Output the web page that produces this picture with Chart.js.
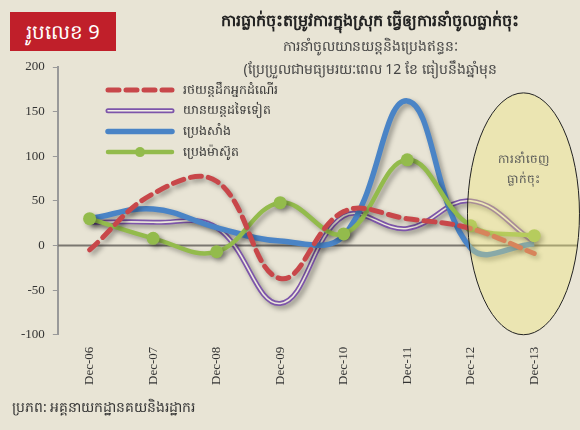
<!DOCTYPE html>
<html>
<head>
<meta charset="utf-8">
<script src="https://cdn.jsdelivr.net/npm/chart.js@4"></script>
<style>
  html, body { margin: 0; padding: 0; }
  body { width: 580px; height: 430px; background: #e8e4d5; position: relative; overflow: hidden; font-family: "Noto Sans", "DejaVu Sans", sans-serif; }
  #wrap { position: absolute; left: 0; top: 0; width: 580px; height: 430px; }
  .badge { position: absolute; left: 10px; top: 12px; width: 106px; height: 39px; background: #c01f2a; color: #fff; font-size: 20px; line-height: 39px; text-align: center; }
  .t1 { position: absolute; left: 150px; width: 440px; top: 9px; text-align: center; font-size: 16px; font-weight: bold; color: #222; }
  .t2 { position: absolute; left: 150px; width: 440px; top: 36px; text-align: center; font-size: 14px; color: #444; }
  .t3 { position: absolute; left: 150px; width: 440px; top: 59px; text-align: center; font-size: 14px; color: #444; }
  .src { position: absolute; left: 12px; top: 397px; font-size: 14px; color: #333; }
</style>
</head>
<body>
<div id="wrap"><canvas id="grafica" width="580" height="430"></canvas></div>
<div class="badge">រូបលេខ 9</div>
<div class="t1">ការធ្លាក់ចុះតម្រូវការក្នុងស្រុក ធ្វើឲ្យការនាំចូលធ្លាក់ចុះ</div>
<div class="t2">ការនាំចូលយានយន្តនិងប្រេងឥន្ធនៈ</div>
<div class="t3">(ប្រែប្រួលជាមធ្យមរយៈពេល 12 ខែ ធៀបនឹងឆ្នាំមុន</div>
<div class="src">ប្រភព: អគ្គនាយកដ្ឋានគយនិងរដ្ឋាករ</div>
<script>
// datos
const categorias = ['Dec-06', 'Dec-07', 'Dec-08', 'Dec-09', 'Dec-10', 'Dec-11', 'Dec-12', 'Dec-13'];
const rotulos = ['រថយន្តដឹកអ្នកដំណើរ', 'យានយន្តដទៃទៀត', 'ប្រេងសាំង', 'ប្រេងម៉ាស៊ូត'];
const rotuloEclipse = ['ការនាំចេញ', 'ធ្លាក់ចុះ'];
const pasajeros = [-5, 58, 72, -37, 38, 30, 19, -9];
const otros = [26, 26, 20, -65, 33, 19, 50, 4];
const gasolina = [30, 41, 20, 5, 11, 162, -3, 2];
const diesel = [30, 8, -7, 48, 13, 96, 22, 11];
const marcasY = [200, 150, 100, 50, 0, -50, -100];

const rojo = '#c8474a', morado = '#7d55aa', azul = '#4a84c6', verde = '#93bb4c';

// linea del cero, llega hasta el borde
const lineaCero = {
  id: 'lineaCero',
  beforeDatasetsDraw(chart) {
    const c = chart.ctx, y0 = chart.scales.y.getPixelForValue(0);
    c.save();
    c.strokeStyle = '#7a7770';
    c.lineWidth = 2;
    c.beginPath(); c.moveTo(chart.chartArea.left, y0); c.lineTo(578, y0); c.stroke();
    c.restore();
  }
};

// sombra de las lineas
const sombra = {
  id: 'sombra',
  beforeDatasetDraw(chart, args) {
    const c = chart.ctx;
    c.save();
    c.shadowColor = 'rgba(0,0,0,0.35)';
    c.shadowBlur = 5;
    c.shadowOffsetX = 3;
    c.shadowOffsetY = 3;
    if (chart.data.datasets[args.index].sinSombra) c.shadowColor = 'transparent';
  },
  afterDatasetDraw(chart) { chart.ctx.restore(); }
};

// elipse sobre Dec-12 / Dec-13
const elipse = {
  id: 'elipse',
  afterDatasetsDraw(chart) {
    const c = chart.ctx, x = chart.scales.x, y = chart.scales.y;
    const cx = (x.getPixelForValue(6) + x.getPixelForValue(7)) / 2 + 21;
    const top = y.getPixelForValue(171), bot = y.getPixelForValue(-100);
    c.save();
    c.beginPath();
    c.ellipse(cx, (top + bot) / 2, 56, (bot - top) / 2, 0, 0, Math.PI * 2);
    c.fillStyle = 'rgba(240,232,122,0.38)';
    c.fill();
    c.lineWidth = 1;
    c.strokeStyle = '#222';
    c.stroke();
    c.fillStyle = '#555';
    c.font = '12px "Noto Sans", sans-serif';
    c.textAlign = 'center';
    c.textBaseline = 'middle';
    c.fillText(rotuloEclipse[0], cx, y.getPixelForValue(96));
    c.fillText(rotuloEclipse[1], cx, y.getPixelForValue(74));
    c.restore();
  }
};

// leyenda a mano
const leyenda = {
  id: 'leyenda',
  afterDraw(chart) {
    const c = chart.ctx;
    const muestras = chart.data.datasets.filter(d => d.label);
    muestras.forEach((d, i) => {
      const yy = 90 + i * 20.7;
      c.save();
      c.lineCap = 'round';
      c.strokeStyle = d.borderColor;
      c.lineWidth = d.borderWidth;
      c.setLineDash(d.borderDash || []);
      c.beginPath(); c.moveTo(108, yy); c.lineTo(172, yy); c.stroke();
      if (d.dobleLinea) {
        c.strokeStyle = '#f2efe6'; c.lineWidth = 1.5;
        c.beginPath(); c.moveTo(108, yy); c.lineTo(172, yy); c.stroke();
      }
      if (d.pointRadius) {
        c.fillStyle = d.borderColor;
        c.beginPath(); c.arc(140, yy, 5, 0, Math.PI * 2); c.fill();
      }
      c.setLineDash([]);
      c.fillStyle = '#333';
      c.font = '12.5px "Noto Sans", sans-serif';
      c.textBaseline = 'middle';
      c.fillText(d.label, 183, yy);
      c.restore();
    });
  }
};

new Chart(document.getElementById('grafica'), {
  type: 'line',
  data: {
    labels: categorias,
    datasets: [
      { label: rotulos[0], data: pasajeros, borderColor: rojo, borderWidth: 5, borderDash: [11, 7], borderCapStyle: 'round', pointRadius: 0, order: 1 },
      { label: rotulos[1], data: otros, borderColor: morado, borderWidth: 5, pointRadius: 0, order: 5, dobleLinea: true },
      { label: '', data: otros, borderColor: '#ece8dc', borderWidth: 1.6, pointRadius: 0, order: 4, sinSombra: true },
      { label: rotulos[2], data: gasolina, borderColor: azul, borderWidth: 5.5, pointRadius: 0, order: 3 },
      { label: rotulos[3], data: diesel, borderColor: verde, borderWidth: 4.5, pointRadius: 6.5, pointBackgroundColor: verde, pointBorderWidth: 0, order: 2 }
    ]
  },
  options: {
    responsive: false,
    animation: false,
    events: [],
    layout: { padding: { top: 67, left: 13, right: 14, bottom: 33 } },
    elements: { line: { tension: 0.4, fill: false } },
    plugins: { legend: { display: false }, tooltip: { enabled: false } },
    scales: {
      x: {
        offset: true,
        grid: { display: false, drawTicks: false },
        border: { display: false },
        ticks: { minRotation: 90, maxRotation: 90, color: '#333', padding: 12, font: { family: '"Liberation Serif", serif', size: 13 } }
      },
      y: {
        min: -100, max: 200,
        afterBuildTicks: eje => { eje.ticks = marcasY.map(v => ({ value: v })); },
        grid: {
          color: 'transparent',
          tickColor: '#999',
          tickLength: 5,
          drawTicks: true
        },
        border: { display: true, color: '#999', width: 2 },
        ticks: { color: '#333', padding: 8, font: { family: '"Liberation Serif", serif', size: 13 } }
      }
    }
  },
  plugins: [lineaCero, sombra, elipse, leyenda]
});
</script>
</body>
</html>
